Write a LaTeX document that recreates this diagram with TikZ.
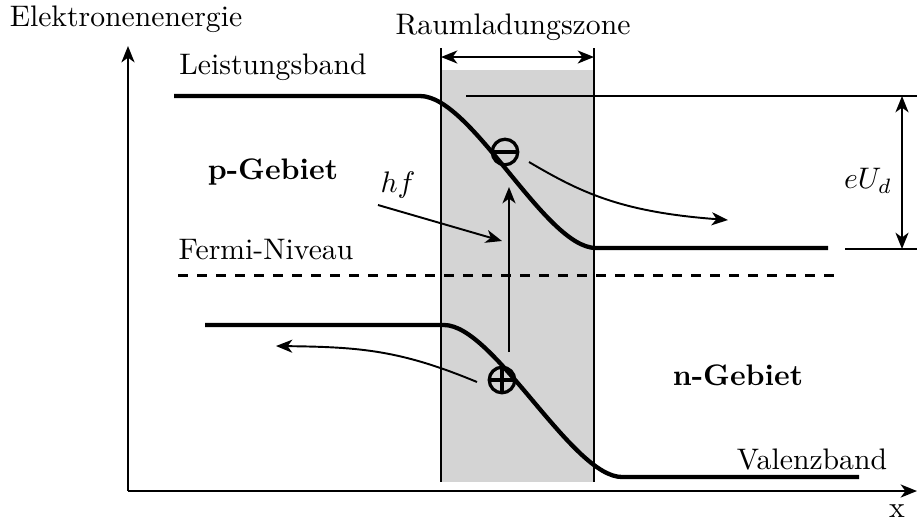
\documentclass[tikz,border=0pt]{standalone}
\usetikzlibrary{arrows.meta}
\begin{document}
\begin{tikzpicture}[x=0.3367pt,y=-0.3367pt,
  band/.style={line width=1.45pt},
  thinln/.style={line width=0.5pt},
  arr/.style={line width=0.65pt,-{Stealth[length=5.5pt,width=4.4pt,inset=1.6pt]}},
  darr/.style={line width=0.65pt,{Stealth[length=5.5pt,width=4.4pt,inset=1.6pt]}-{Stealth[length=5.5pt,width=4.4pt,inset=1.6pt]}},
  lbl/.style={inner sep=0pt},
  charge/.style={circle,draw,line width=1.1pt,minimum size=8.6pt,inner sep=0pt}]
\useasboundingbox (0,0) rectangle (917,521);
% space charge zone
\fill[black!17] (441,70) rectangle (594,482);
\coordinate (zl) at (441,48);
\coordinate (zlb) at (441,482);
\coordinate (zr) at (594,48);
\coordinate (zrb) at (594,482);
\draw[line width=0.75pt] (zl) -- (zlb);
\draw[line width=0.75pt] (zr) -- (zrb);
\coordinate (dl) at (441,57);
\coordinate (dr) at (594,57);
\draw[darr] (dl) -- (dr);
\node[lbl] (rlz) at (513,27) {Raumladungszone};
% axes
\coordinate (O) at (128,491);
\coordinate (ytip) at (128,46);
\coordinate (xtip) at (917,491);
\draw[line width=0.8pt,-{Stealth[length=5.5pt,width=4.4pt,inset=1.6pt]}] (O) -- (ytip);
\draw[line width=0.8pt,-{Stealth[length=5.5pt,width=4.4pt,inset=1.6pt]}] (O) -- (xtip);
\node[lbl] (yl) at (126,19) {Elektronenenergie};
\node[lbl] (xl) at (897,511) {x};
% conduction band
\coordinate (c0) at (174,96);
\coordinate (c1) at (420,96);
\coordinate (c2) at (596,248);
\coordinate (c3) at (828,248);
\draw[band] (c0) -- (c1) .. controls (472,96) and (545,248) .. (c2) -- (c3);
% valence band
\coordinate (v0) at (205,325);
\coordinate (v1) at (444,325);
\coordinate (v2) at (622,477);
\coordinate (v3) at (859,477);
\draw[band] (v0) -- (v1) .. controls (494,325) and (572,477) .. (v2) -- (v3);
% Fermi level
\coordinate (f0) at (178,275);
\coordinate (f1) at (836,275);
\draw[line width=1pt,dash pattern=on 3.4pt off 3pt] (f0) -- (f1);
% eU_d
\coordinate (t0) at (466,96);
\coordinate (t1) at (917,96);
\coordinate (b0) at (845,249);
\coordinate (b1) at (917,249);
\draw[thinln] (t0) -- (t1);
\draw[thinln] (b0) -- (b1);
\coordinate (ua) at (902,96);
\coordinate (ub) at (902,249);
\draw[darr] (ua) -- (ub);
\node[lbl] (eud) at (868,181) {$eU_d$};
% labels
\node[lbl] (lb) at (273,67) {Leistungsband};
\node[lbl,font=\bfseries] (pg) at (273,172) {p-Gebiet};
\node[lbl] (fn) at (266,250) {Fermi-Niveau};
\node[lbl,font=\bfseries] (ng) at (738,375) {n-Gebiet};
\node[lbl] (vb) at (812,460) {Valenzband};
\node[lbl] (hf) at (398,185) {$hf$};
% charges
\node[charge] (minus) at (505,152) {};
\draw[line width=1.1pt] (minus.west) -- (minus.east);
\node[charge] (plus) at (502,380) {};
\draw[line width=1.1pt] (plus.west) -- (plus.east);
\draw[line width=1.1pt] (plus.north) -- (plus.south);
% arrows
\coordinate (up0) at (509,352);
\coordinate (up1) at (509,187);
\draw[arr] (up0) -- (up1);
\coordinate (h0) at (378,205);
\coordinate (h1) at (502,241);
\draw[arr] (h0) -- (h1);
\coordinate (e0) at (529,162);
\coordinate (e1) at (728,220);
\draw[arr] (e0) .. controls (580,192) and (620,212) .. (e1);
\coordinate (p0) at (477,382);
\coordinate (p1) at (276,346);
\draw[arr] (p0) .. controls (400,350) and (360,347) .. (p1);
\end{tikzpicture}
\end{document}
